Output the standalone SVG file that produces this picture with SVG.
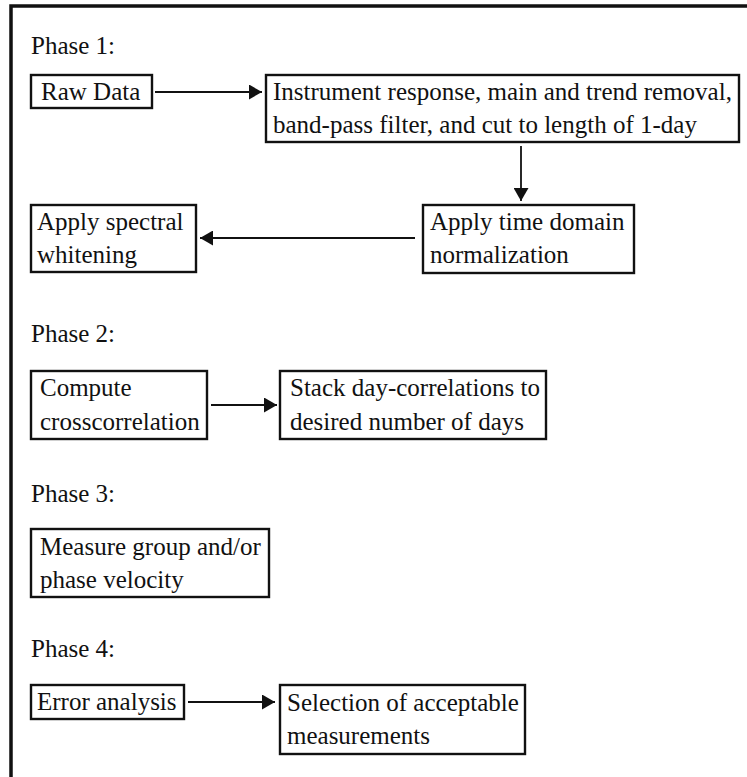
<svg xmlns="http://www.w3.org/2000/svg" width="747" height="777" viewBox="0 0 747 777">
<style>
text{font-family:"Liberation Serif","Times New Roman",serif;font-size:25px;fill:#111}
.box{fill:#fff;stroke:#111;stroke-width:2.4}
.conn{stroke:#111;stroke-width:1.8;fill:none}
.frame{stroke:#111;stroke-width:3.5;fill:none}
</style>
<defs>
<marker id="ah" viewBox="0 0 13 15" refX="13" refY="7.5" markerWidth="13" markerHeight="15" markerUnits="userSpaceOnUse" orient="auto">
<path d="M0,0 L13,7.5 L0,15 Z" fill="#111"/>
</marker>
</defs>
<rect width="747" height="777" fill="#fff"/>
<path class="frame" d="M11,777 L11,6 L747,6"/>
<g id="labels">
<text x="31" y="54">Phase 1:</text>
<text x="31" y="342">Phase 2:</text>
<text x="31" y="502">Phase 3:</text>
<text x="31" y="657">Phase 4:</text>
</g>
<g id="connectors">
<line class="conn" x1="155" y1="92" x2="262" y2="92" marker-end="url(#ah)"/>
<line class="conn" x1="521" y1="146" x2="521" y2="201" marker-end="url(#ah)"/>
<line class="conn" x1="415" y1="238" x2="200" y2="238" marker-end="url(#ah)"/>
<line class="conn" x1="211" y1="405" x2="277" y2="405" marker-end="url(#ah)"/>
<line class="conn" x1="188" y1="702" x2="275" y2="702" marker-end="url(#ah)"/>
</g>
<g id="raw-data">
<rect class="box" x="31" y="75" width="121" height="33"/>
<text x="41" y="100">Raw Data</text>
</g>
<g id="instrument">
<rect class="box" x="266" y="75" width="473" height="67"/>
<text x="273" y="100">Instrument response, main and trend removal,</text>
<text x="273" y="133">band-pass filter, and cut to length of 1-day</text>
</g>
<g id="time-domain">
<rect class="box" x="423" y="205" width="211" height="68"/>
<text x="430" y="230">Apply time domain</text>
<text x="430" y="263">normalization</text>
</g>
<g id="whitening">
<rect class="box" x="31" y="205" width="165" height="67"/>
<text x="37" y="230">Apply spectral</text>
<text x="37" y="263">whitening</text>
</g>
<g id="crosscorrelation">
<rect class="box" x="31" y="371" width="176" height="68"/>
<text x="40" y="396">Compute</text>
<text x="40" y="430">crosscorrelation</text>
</g>
<g id="stack">
<rect class="box" x="280" y="371" width="266" height="68"/>
<text x="290" y="396">Stack day-correlations to</text>
<text x="290" y="430">desired number of days</text>
</g>
<g id="measure">
<rect class="box" x="31" y="529" width="238" height="68"/>
<text x="40" y="555">Measure group and/or</text>
<text x="40" y="588">phase velocity</text>
</g>
<g id="error">
<rect class="box" x="31" y="685" width="153" height="34"/>
<text x="37" y="710">Error analysis</text>
</g>
<g id="selection">
<rect class="box" x="280" y="685" width="245" height="69"/>
<text x="287" y="711">Selection of acceptable</text>
<text x="287" y="744">measurements</text>
</g>
</svg>
